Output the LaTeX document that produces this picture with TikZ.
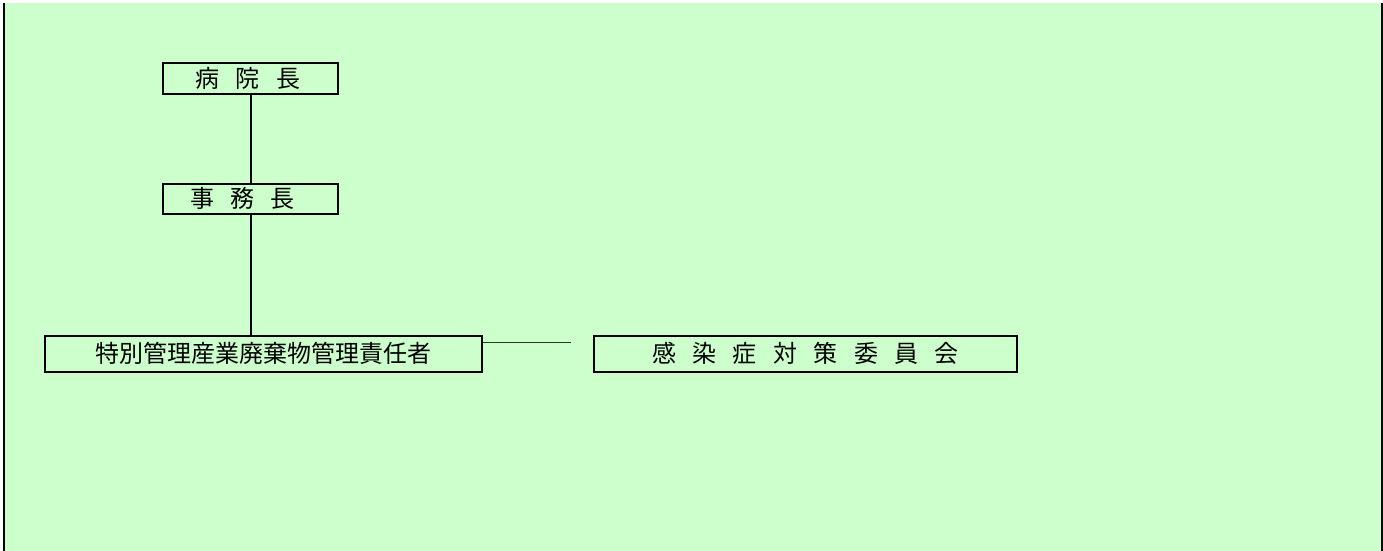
\documentclass[tikz,border=0pt]{standalone}
\usepackage{fontspec}
\newfontfamily\jpfont{Noto Sans CJK JP}
\definecolor{bggreen}{HTML}{CCFFCC}
\definecolor{linegray}{HTML}{2A3A2A}
\begin{document}
\begin{tikzpicture}[x=1pt,y=-1pt,
  orgbox/.style={draw=black, line width=2pt, inner sep=0pt, anchor=center,
    font=\jpfont\fontsize{24}{28}\selectfont},
  link/.style={draw=black, line width=2pt},
  thinlink/.style={draw=linegray, line width=1pt}]
\useasboundingbox (0,0) rectangle (1383,551);
\fill[white] (0,0) rectangle (1383,551);
\fill[bggreen] (5,3) rectangle (1381,551);
\fill[black] (3,3) rectangle (5,551);
\fill[black] (1381,3) rectangle (1383,551);
\node[orgbox, minimum width=175pt, minimum height=30pt] (boss) at (250.5,78.5)
  {\hspace{-5pt}病\hspace{16.4pt}院\hspace{16.4pt}長};
\node[orgbox, minimum width=175pt, minimum height=30pt] (jimu) at (250.5,198.5)
  {\hspace{-16pt}事\hspace{16.4pt}務\hspace{16.4pt}長};
\node[orgbox, minimum width=437pt, minimum height=36pt] (toku) at (263.5,353.5)
  {特別管理産業廃棄物管理責任者};
\node[orgbox, minimum width=423pt, minimum height=36pt] (kansen) at (805.5,353.5)
  {感\hspace{16.4pt}染\hspace{16.4pt}症\hspace{16.4pt}対\hspace{16.4pt}策\hspace{16.4pt}委\hspace{16.4pt}員\hspace{16.4pt}会\hspace{19pt}};
\coordinate (gapend) at (571,342);
\draw[link] (boss.south) -- (jimu.north);
\draw[link] (jimu.south) -- (jimu.south |- toku.north);
\draw[thinlink] (toku.east |- gapend) -- (gapend);
\end{tikzpicture}
\end{document}
